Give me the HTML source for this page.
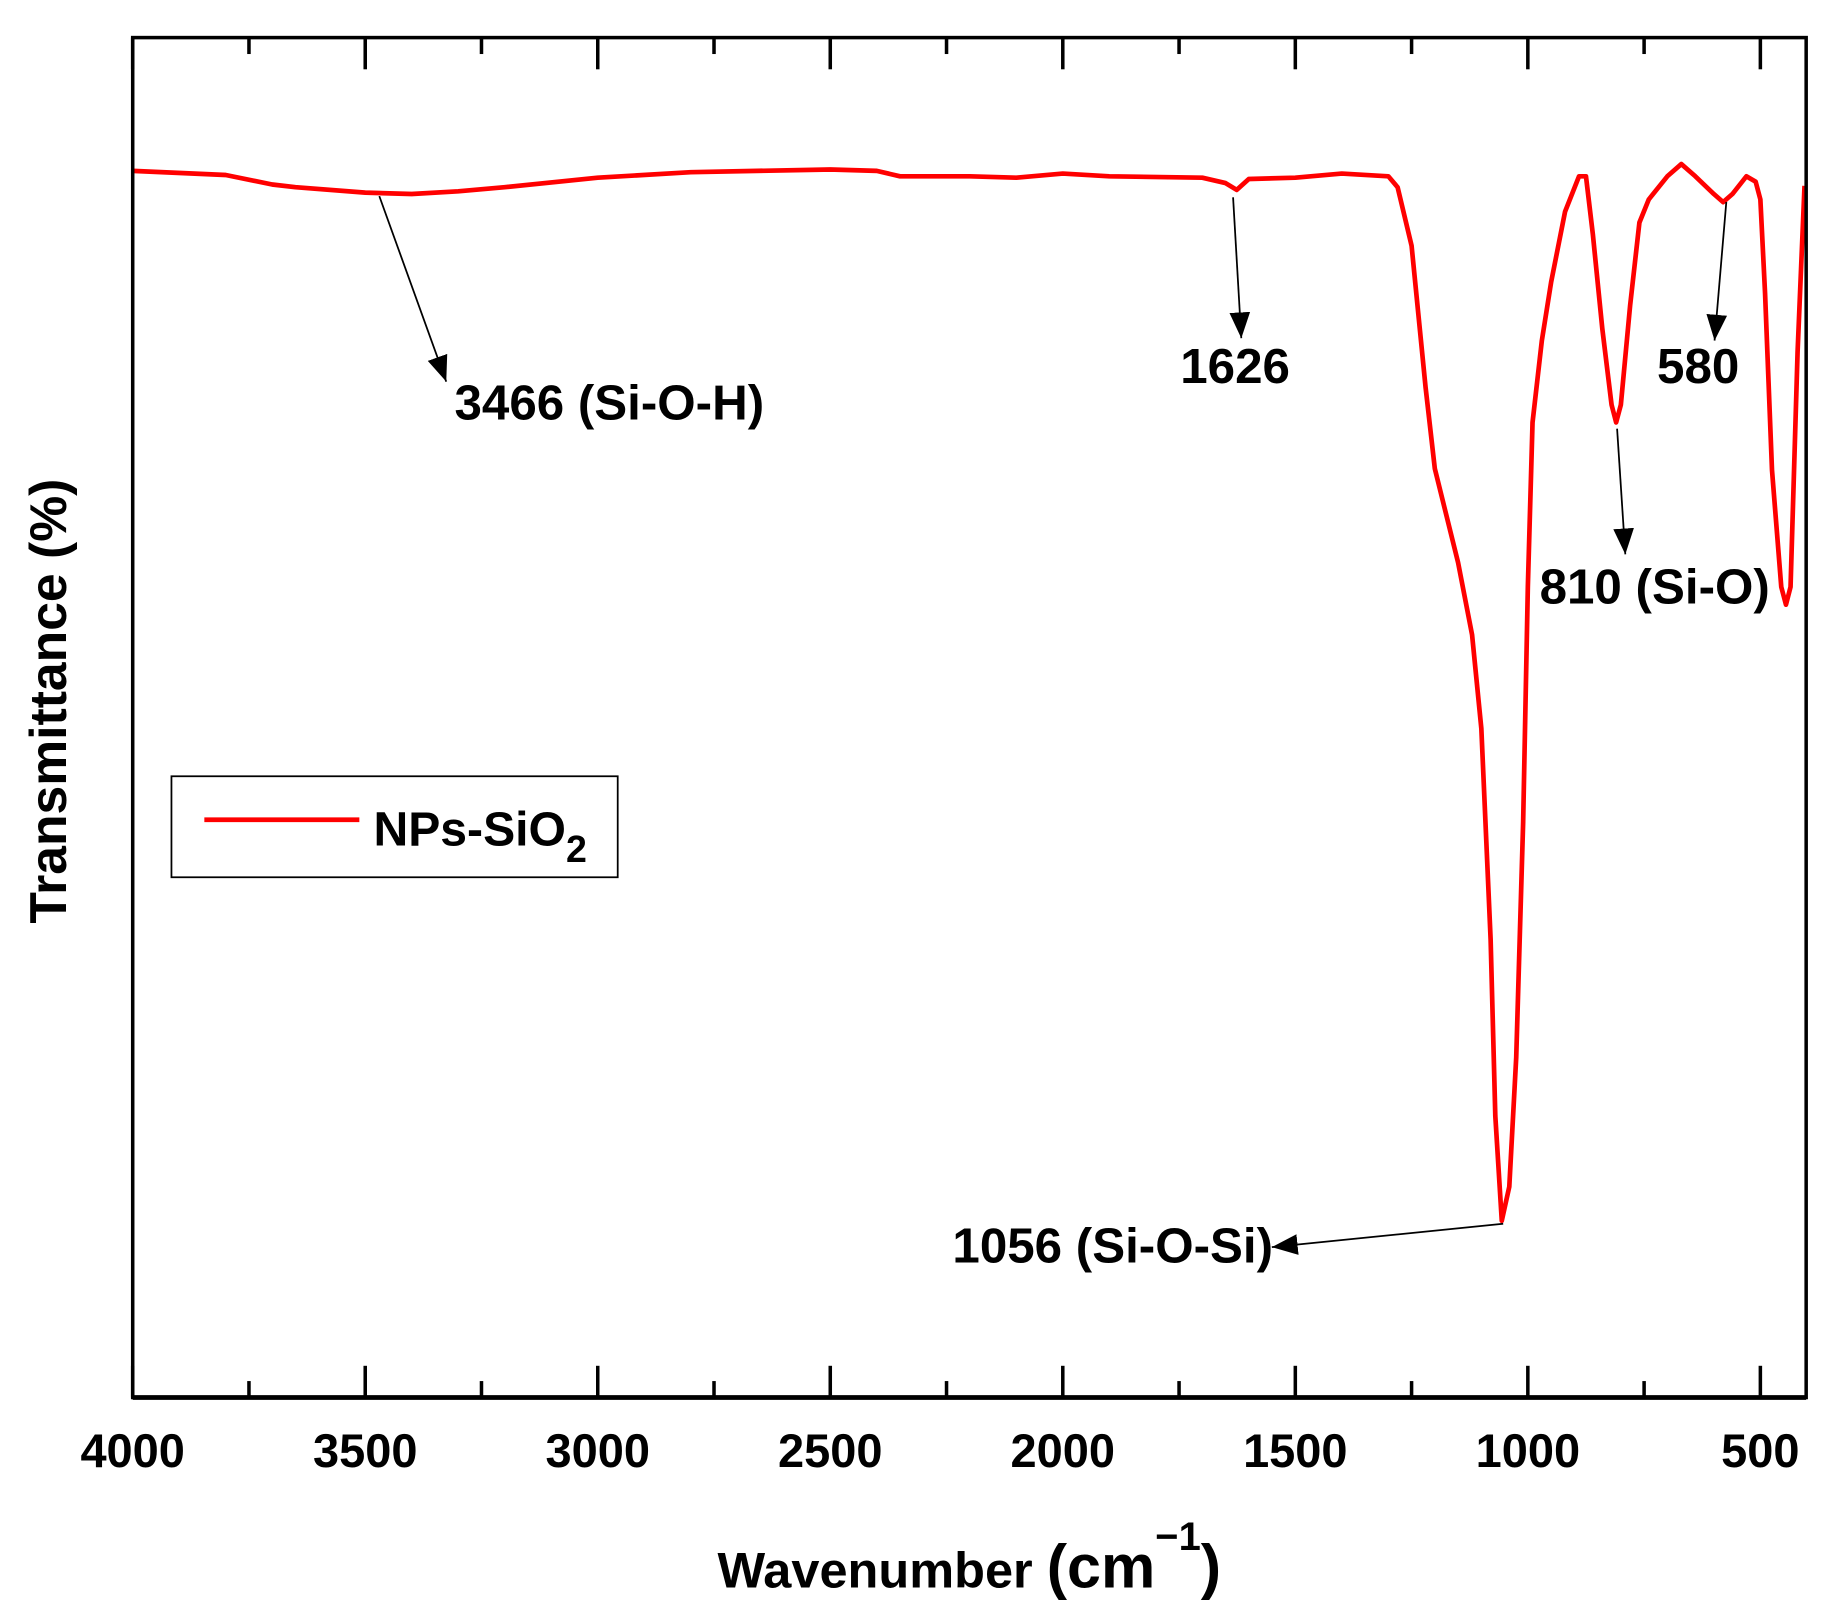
<!DOCTYPE html>
<html><head><meta charset="utf-8"><style>
html,body{margin:0;padding:0;background:#fff;}
svg{display:block;}
text{font-family:"Liberation Sans",Arial,sans-serif;font-weight:bold;fill:#000;}
</style></head><body>
<svg id="chart" width="1832" height="1621" viewBox="0 0 1560 1380.3" xmlns="http://www.w3.org/2000/svg">
<defs>
<marker id="arr" viewBox="0 0 20 20" markerWidth="22" markerHeight="22" refX="20" refY="10" orient="auto" markerUnits="userSpaceOnUse"><path d="M0,2 L20,10 L0,18 Z" fill="#000"/></marker></defs>
<g id="plot"></g>
<rect x="113" y="32" width="1425" height="1158" fill="none" stroke="#000" stroke-width="3"/>
<line x1="113" y1="1190" x2="1538" y2="1190" stroke="#000" stroke-width="4"/>
<g id="ticks"></g>
<text x="611" y="1352" font-size="43">Wavenumber <tspan font-size="52">(cm</tspan><tspan font-size="34" dy="-32">−1</tspan><tspan font-size="52" dy="32">)</tspan></text>
<text transform="translate(56,597) rotate(-90)" text-anchor="middle" font-size="44">Transmittance (%)</text>
<g>
<rect x="146" y="661" width="380" height="86" fill="#fff" stroke="#000" stroke-width="1.5"/>
<line x1="174" y1="698" x2="306" y2="698" stroke="#ff0000" stroke-width="4"/>
<text x="318" y="720" font-size="41">NPs-SiO<tspan font-size="32" dy="14">2</tspan></text>
</g>
<g>
<line x1="323" y1="167" x2="380" y2="325" stroke="#000" stroke-width="1.5" marker-end="url(#arr)"/>
<text x="387" y="357" font-size="42">3466 (Si-O-H)</text>
<line x1="1050" y1="168" x2="1057" y2="288" stroke="#000" stroke-width="1.5" marker-end="url(#arr)"/>
<text x="1005" y="326" font-size="42">1626</text>
<line x1="1470" y1="172" x2="1460" y2="290" stroke="#000" stroke-width="1.5" marker-end="url(#arr)"/>
<text x="1411" y="326" font-size="42">580</text>
<line x1="1377" y1="365" x2="1384" y2="472" stroke="#000" stroke-width="1.5" marker-end="url(#arr)"/>
<text x="1311" y="514" font-size="42">810 (Si-O)</text>
<line x1="1280" y1="1042" x2="1083" y2="1062" stroke="#000" stroke-width="1.5" marker-end="url(#arr)"/>
<text x="811" y="1075" font-size="42">1056 (Si-O-Si)</text>
</g>
</svg>
<script>
const wavenumbers=[4000,3800,3700,3650,3500,3400,3300,3200,3000,2800,2500,2400,2350,2300,2200,2100,2000,1900,1700,1650,1626,1600,1500,1400,1300,1280,1250,1220,1200,1150,1120,1100,1080,1070,1056,1040,1025,1010,1000,990,970,950,920,890,875,860,840,820,810,800,780,760,740,700,670,640,600,580,560,530,510,500,490,475,455,445,435,420,405];
const transmittance=[90.2,89.9,89.2,89.0,88.6,88.5,88.7,89.0,89.7,90.1,90.3,90.2,89.8,89.8,89.8,89.7,90.0,89.8,89.7,89.3,88.8,89.6,89.7,90.0,89.8,89.0,84.7,74.3,68.3,61.4,56.1,49.2,33.7,20.7,13.0,15.5,25.0,42.3,59.6,71.7,77.7,82.0,87.2,89.8,89.8,85.5,78.6,73.0,71.7,73.0,80.3,86.4,88.1,89.8,90.7,89.8,88.5,87.9,88.5,89.8,89.4,88.1,81.2,68.2,59.6,58.3,59.6,76.9,89.1];
const majorTicks=[4000,3500,3000,2500,2000,1500,1000,500];
const minorTicks=[3750,3250,2750,2250,1750,1250,750];
const NS='http://www.w3.org/2000/svg';
const xScale=w=>113+(4000-w)*(1386/3500);
const yScale=v=>1190-v*11.58;
const plot=document.getElementById('plot');
let d='';
wavenumbers.forEach((w,i)=>{d+=(i?'L':'M')+xScale(w).toFixed(1)+','+yScale(transmittance[i]).toFixed(1);});
const p=document.createElementNS(NS,'path');
p.setAttribute('d',d);p.setAttribute('fill','none');p.setAttribute('stroke','#ff0000');p.setAttribute('stroke-width','4');p.setAttribute('stroke-linejoin','round');


plot.appendChild(p);
const tg=document.getElementById('ticks');
function tick(w,len,major){
  [[1190,-1],[32,1]].forEach(([y0,dir])=>{
    const l=document.createElementNS(NS,'line');
    l.setAttribute('x1',xScale(w));l.setAttribute('x2',xScale(w));
    l.setAttribute('y1',y0);l.setAttribute('y2',y0+dir*len);
    l.setAttribute('stroke','#000');l.setAttribute('stroke-width','3');
    
    
    tg.appendChild(l);
  });
  if(major){
    const t=document.createElementNS(NS,'text');
    t.setAttribute('x',xScale(w));t.setAttribute('y',1249);t.setAttribute('text-anchor','middle');t.setAttribute('font-size','40');
    t.textContent=w;
    
    
    tg.appendChild(t);
  }
}
majorTicks.forEach(w=>tick(w,27,true));
minorTicks.forEach(w=>tick(w,14,false));
</script>
</body></html>
